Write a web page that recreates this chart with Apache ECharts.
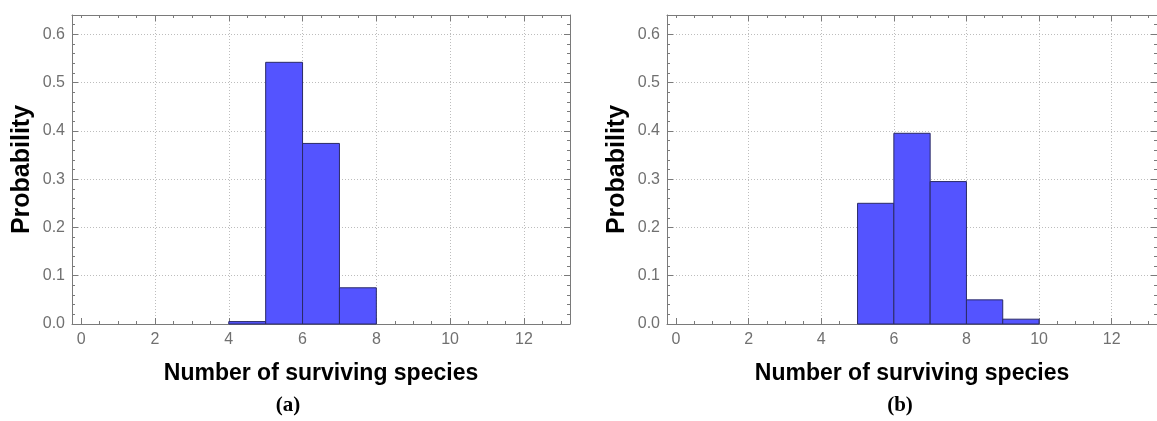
<!DOCTYPE html>
<html>
<head>
<meta charset="utf-8">
<script src="https://cdn.jsdelivr.net/npm/echarts@6/dist/echarts.min.js"></script>
<style>
  html, body { margin: 0; padding: 0; background: #fff; }
  #chart { width: 1157px; height: 421px; }
</style>
</head>
<body>
<div id="chart"></div>
<script>
// histogram bins (left edge of each unit-wide bin) and probabilities
const binStartsA = [4, 5, 6, 7]
const probA = [0.005, 0.542, 0.374, 0.075]
const binStartsB = [5, 6, 7, 8, 9]
const probB = [0.25, 0.395, 0.295, 0.05, 0.01]

// tick labels
const xTicks = [0, 2, 4, 6, 8, 10, 12]
const xGridTicks = [2, 4, 6, 8, 10, 12]
const yTicks = [0, 0.1, 0.2, 0.3, 0.4, 0.5, 0.6]
const captions = ['(a)', '(b)']

const xMin = -0.25, xMax = 13.25
const yMin = 0, yMax = 0.64

function steps(from, to, step) {
  const out = []
  for (let v = from; v <= to + 1e-9; v += step) out.push(Math.round(v * 1000) / 1000)
  return out
}
const xMinor = steps(0, 13, 0.5)
const yMinor = steps(0, 0.64, 0.02)

const frameColor = '#7a7a7a'
const gridLine = { show: true, lineStyle: { color: '#bdbdbd', width: 1, type: [1, 2] } }

const panels = [
  { left: 72, width: 498, starts: binStartsA, probs: probA, caption: captions[0], capX: 288 },
  { left: 667, width: 500, starts: binStartsB, probs: probB, caption: captions[1], capX: 900 }
]

const grids = [], xAxes = [], yAxes = [], series = [], graphics = []

function tickAxis(extra) {
  return Object.assign({
    type: 'value',
    axisLine: { show: false, onZero: false },
    axisLabel: { show: false },
    splitLine: { show: false }
  }, extra)
}

panels.forEach((p, g) => {
  grids.push({ left: p.left, top: 15, width: p.width, height: 309 })
  const xb = { gridIndex: g, min: xMin, max: xMax }
  const yb = { gridIndex: g, min: yMin, max: yMax }

  // bottom axis with labels and name
  xAxes.push(tickAxis(Object.assign({}, xb, {
    position: 'bottom',
    axisLine: { show: true, onZero: false, lineStyle: { color: frameColor, width: 1 } },
    axisTick: { customValues: xTicks, inside: true, length: 6, lineStyle: { color: frameColor } },
    axisLabel: { show: true, customValues: xTicks, margin: 8, fontSize: 16, color: '#707070', fontFamily: 'Liberation Sans' },
    name: 'Number of surviving species',
    nameLocation: 'middle',
    nameGap: 38,
    nameTextStyle: { fontSize: 23, fontWeight: 'bold', color: '#000', fontFamily: 'Liberation Sans' }
  })))
  xAxes.push(tickAxis(Object.assign({}, xb, {
    position: 'bottom',
    axisTick: { customValues: xMinor, inside: true, length: 3, lineStyle: { color: frameColor } }
  })))
  // top frame, carries the vertical grid lines
  xAxes.push(tickAxis(Object.assign({}, xb, {
    position: 'top',
    axisLine: { show: true, onZero: false, lineStyle: { color: frameColor, width: 1 } },
    axisTick: { customValues: xGridTicks, inside: true, length: 6, lineStyle: { color: frameColor } },
    splitLine: gridLine
  })))
  xAxes.push(tickAxis(Object.assign({}, xb, {
    position: 'top',
    axisTick: { customValues: xMinor, inside: true, length: 3, lineStyle: { color: frameColor } }
  })))

  // left axis with labels and name
  yAxes.push(tickAxis(Object.assign({}, yb, {
    position: 'left',
    axisLine: { show: true, onZero: false, lineStyle: { color: frameColor, width: 1 } },
    axisTick: { customValues: yTicks, inside: true, length: 6, lineStyle: { color: frameColor } },
    axisLabel: { show: true, customValues: yTicks, margin: 7, fontSize: 16, color: '#707070', fontFamily: 'Liberation Sans',
      formatter: v => v.toFixed(1) },
    splitLine: gridLine,
    name: 'Probability',
    nameLocation: 'middle',
    nameRotate: 90,
    nameGap: 37,
    nameTextStyle: { fontSize: 25, fontWeight: 'bold', color: '#000', fontFamily: 'Liberation Sans' }
  })))
  yAxes.push(tickAxis(Object.assign({}, yb, {
    position: 'left',
    axisTick: { customValues: yMinor, inside: true, length: 3, lineStyle: { color: frameColor } }
  })))
  yAxes.push(tickAxis(Object.assign({}, yb, {
    position: 'right',
    axisLine: { show: true, onZero: false, lineStyle: { color: frameColor, width: 1 } },
    axisTick: { customValues: yTicks, inside: true, length: 6, lineStyle: { color: frameColor } }
  })))
  yAxes.push(tickAxis(Object.assign({}, yb, {
    position: 'right',
    axisTick: { customValues: yMinor, inside: true, length: 3, lineStyle: { color: frameColor } }
  })))

  series.push({
    type: 'custom',
    xAxisIndex: g * 4,
    yAxisIndex: g * 4,
    data: p.starts.map((s, i) => [s, s + 1, p.probs[i]]),
    encode: { x: [0, 1], y: 2 },
    renderItem: (params, api) => {
      const a = api.coord([api.value(0), 0])
      const b = api.coord([api.value(1), api.value(2)])
      return {
        type: 'rect',
        shape: { x: a[0], y: b[1], width: b[0] - a[0], height: a[1] - b[1] },
        style: { fill: '#5454ff', stroke: '#2b2b66', lineWidth: 1 }
      }
    }
  })

  graphics.push({
    type: 'text',
    x: p.capX,
    y: 406,
    style: { text: p.caption, align: 'center', verticalAlign: 'middle',
      font: 'bold 21px "Liberation Serif"', fill: '#000' }
  })
})

const chart = echarts.init(document.getElementById('chart'), null, { renderer: 'canvas' })
chart.setOption({
  animation: false,
  grid: grids,
  xAxis: xAxes,
  yAxis: yAxes,
  series: series,
  graphic: graphics
})
</script>
</body>
</html>
